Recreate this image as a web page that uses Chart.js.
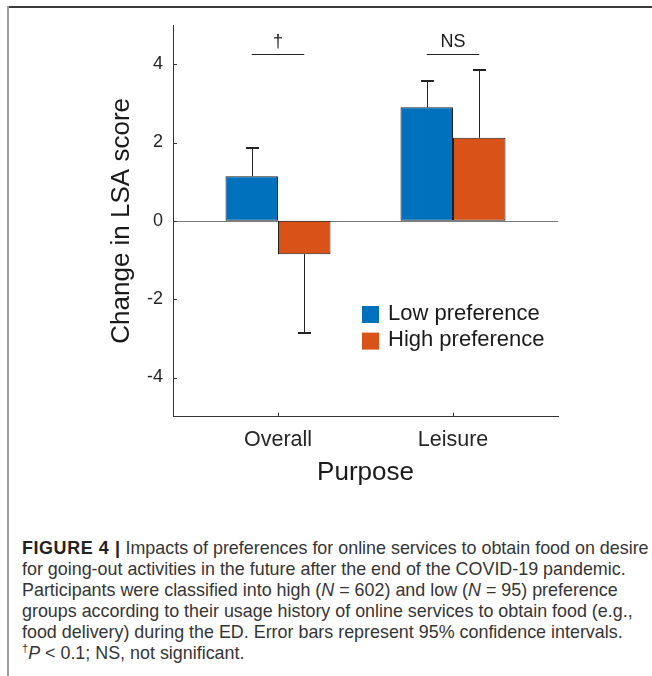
<!DOCTYPE html>
<html>
<head>
<meta charset="utf-8">
<script src="https://cdn.jsdelivr.net/npm/chart.js@4.4.1/dist/chart.umd.min.js"></script>
<style>
  html, body { margin: 0; padding: 0; background: #fff; }
  body { width: 652px; height: 676px; position: relative; overflow: hidden;
         font-family: "Liberation Sans", Arial, Helvetica, sans-serif; }
  #frameTop { position: absolute; left: 7px; top: 6px; right: 0; height: 2px; background: #3a3a3a; }
  #frameLeft { position: absolute; left: 7px; top: 6px; bottom: 0; width: 2px; background: #9c9c9c; }
  #plot { position: absolute; left: 0; top: 0; width: 652px; height: 500px; }
  #caption { position: absolute; left: 22px; top: 538px; font-size: 17.9px; line-height: 21px;
             color: #353535; white-space: nowrap; }
  #caption b { color: #222; letter-spacing: 0.6px; }
  #caption sup { font-size: 11px; line-height: 0; vertical-align: 7px; }
</style>
</head>
<body>
<div id="frameTop"></div>
<div id="frameLeft"></div>
<div id="plot"><canvas id="chart"></canvas></div>
<div id="caption">
<b>FIGURE 4 |</b> Impacts of preferences for online services to obtain food on desire<br>
for going-out activities in the future after the end of the COVID-19 pandemic.<br>
Participants were classified into high (<i>N</i> = 602) and low (<i>N</i> = 95) preference<br>
groups according to their usage history of online services to obtain food (e.g.,<br>
food delivery) during the ED. Error bars represent 95% confidence intervals.<br>
<sup>†</sup><i>P</i> &lt; 0.1; NS, not significant.
</div>
<script>
// Purpose categories and their positions on the x axis
const purposes = ['Overall', 'Leisure'];
const purposePositions = [1, 2];

// Mean change in LSA score per preference group
const seriesNames = ['Low preference', 'High preference'];
const lowPreference = [1.14, 2.90];
const highPreference = [-0.85, 2.12];

// Half-widths of the 95% confidence intervals
const lowPreferenceCI = [0.71, 0.68];
const highPreferenceCI = [2.01, 1.74];

// Group comparison markers per purpose
const significance = ['\u2020', 'NS'];

// Y axis tick values
const yTicks = [-4, -2, 0, 2, 4];

const seriesColors = ['#0072BD', '#D95319'];
const inkColor = '#262626';
const bracketLevel = 4.27;

Chart.defaults.font.family = '"Liberation Sans", Arial, Helvetica, sans-serif';
Chart.defaults.color = inkColor;

function points(values) {
  return purposePositions.map((x, i) => ({ x: x, y: values[i] }));
}

// Zero reference line drawn beneath the bars
const zeroLine = {
  id: 'zeroLine',
  beforeDatasetsDraw(chart) {
    const { ctx, chartArea, scales } = chart;
    const y = Math.round(scales.y.getPixelForValue(0)) + 0.5;
    ctx.save();
    ctx.strokeStyle = '#7a7a7a';
    ctx.lineWidth = 1;
    ctx.beginPath();
    ctx.moveTo(chartArea.left, y);
    ctx.lineTo(chartArea.right, y);
    ctx.stroke();
    ctx.restore();
  }
};

// Inward tick marks on both axes
const innerTicks = {
  id: 'innerTicks',
  afterDraw(chart) {
    const { ctx, chartArea, scales } = chart;
    ctx.save();
    ctx.strokeStyle = '#333';
    ctx.lineWidth = 1;
    ctx.beginPath();
    yTicks.forEach(v => {
      const y = Math.round(scales.y.getPixelForValue(v)) + 0.5;
      ctx.moveTo(chartArea.left, y);
      ctx.lineTo(chartArea.left + 4, y);
    });
    purposePositions.forEach(v => {
      const x = Math.round(scales.x.getPixelForValue(v)) + 0.5;
      ctx.moveTo(x, chartArea.bottom);
      ctx.lineTo(x, chartArea.bottom - 4);
    });
    ctx.stroke();
    ctx.restore();
  }
};

// One-sided confidence interval whiskers, pointing away from zero
const errorBars = {
  id: 'errorBars',
  afterDatasetsDraw(chart) {
    const { ctx, scales } = chart;
    ctx.save();
    ctx.strokeStyle = '#222';
    chart.data.datasets.forEach((ds, di) => {
      const meta = chart.getDatasetMeta(di);
      meta.data.forEach((bar, i) => {
        const v = ds.data[i].y;
        const end = v + Math.sign(v) * ds.ci[i];
        const x = Math.round(bar.x) + 0.5;
        const y0 = scales.y.getPixelForValue(v);
        const y1 = Math.round(scales.y.getPixelForValue(end));
        ctx.lineWidth = 1;
        ctx.beginPath();
        ctx.moveTo(x, y0);
        ctx.lineTo(x, y1);
        ctx.stroke();
        ctx.lineWidth = 2;
        ctx.beginPath();
        ctx.moveTo(x - 6.5, y1);
        ctx.lineTo(x + 6.5, y1);
        ctx.stroke();
      });
    });
    ctx.restore();
  }
};

// Comparison brackets with their markers above each purpose
const brackets = {
  id: 'brackets',
  afterDraw(chart) {
    const { ctx, scales } = chart;
    const m0 = chart.getDatasetMeta(0);
    const m1 = chart.getDatasetMeta(1);
    const y = Math.round(scales.y.getPixelForValue(bracketLevel)) + 0.5;
    ctx.save();
    ctx.strokeStyle = '#222';
    ctx.fillStyle = '#1a1a1a';
    ctx.lineWidth = 1;
    ctx.font = '18px "Liberation Sans", Arial, sans-serif';
    ctx.textAlign = 'center';
    ctx.textBaseline = 'middle';
    purposePositions.forEach((p, i) => {
      const xa = m0.data[i].x;
      const xb = m1.data[i].x;
      ctx.beginPath();
      ctx.moveTo(xa, y);
      ctx.lineTo(xb, y);
      ctx.stroke();
      ctx.fillText(significance[i], (xa + xb) / 2, y - 12);
    });
    ctx.restore();
  }
};

// Legend boxed inside the lower right of the plot
const insideLegend = {
  id: 'insideLegend',
  afterDraw(chart) {
    const { ctx, chartArea } = chart;
    const x = chartArea.left + 189;
    const top = chartArea.top + 281;
    const box = 17;
    const rowGap = 26.6;
    ctx.save();
    ctx.font = '22px "Liberation Sans", Arial, sans-serif';
    ctx.textAlign = 'left';
    ctx.textBaseline = 'middle';
    chart.data.datasets.forEach((ds, i) => {
      const yTop = top + i * rowGap;
      ctx.fillStyle = ds.backgroundColor;
      ctx.fillRect(x, yTop, box, box);
      ctx.fillStyle = '#1a1a1a';
      ctx.fillText(ds.label, x + 26, yTop + box / 2 - 1);
    });
    ctx.restore();
  }
};

const barStyle = {
  borderColor: '#1f1f1f',
  borderWidth: 1,
  borderSkipped: false,
  categoryPercentage: 0.6,
  barPercentage: 1.0
};

new Chart(document.getElementById('chart'), {
  type: 'bar',
  data: {
    datasets: [
      Object.assign({ label: seriesNames[0], data: points(lowPreference),
        backgroundColor: seriesColors[0], ci: lowPreferenceCI }, barStyle),
      Object.assign({ label: seriesNames[1], data: points(highPreference),
        backgroundColor: seriesColors[1], ci: highPreferenceCI }, barStyle)
    ]
  },
  options: {
    responsive: true,
    maintainAspectRatio: false,
    animation: false,
    layout: { padding: { left: 106, top: 25, right: 94, bottom: 0 } },
    plugins: {
      legend: { display: false },
      tooltip: { enabled: false }
    },
    scales: {
      x: {
        type: 'linear',
        min: 0.4,
        max: 2.6,
        offset: false,
        grid: { display: false, drawTicks: false },
        border: { display: true, color: '#333', width: 1 },
        afterBuildTicks(scale) {
          scale.ticks = purposePositions.map(v => ({ value: v }));
        },
        afterFit(scale) { scale.height = 83.3; },
        ticks: {
          padding: 10,
          maxRotation: 0,
          autoSkip: false,
          font: { size: 21.5 },
          color: inkColor,
          callback: (value, index) => purposes[index]
        },
        title: {
          display: true,
          text: 'Purpose',
          font: { size: 26 },
          color: '#1a1a1a',
          padding: { top: 0, bottom: 12 }
        }
      },
      y: {
        min: -5,
        max: 5,
        grid: { display: false, drawTicks: false },
        border: { display: true, color: '#333', width: 1 },
        afterBuildTicks(scale) {
          scale.ticks = yTicks.map(v => ({ value: v }));
        },
        afterFit(scale) { scale.width = 67; },
        ticks: {
          padding: 10,
          font: { size: 18 },
          color: inkColor,
          callback: value => String(value)
        },
        title: {
          display: true,
          text: 'Change in LSA score',
          font: { size: 26 },
          color: '#1a1a1a',
          padding: { top: 0, bottom: 0 }
        }
      }
    }
  },
  plugins: [zeroLine, errorBars, innerTicks, brackets, insideLegend]
});
</script>
</body>
</html>
